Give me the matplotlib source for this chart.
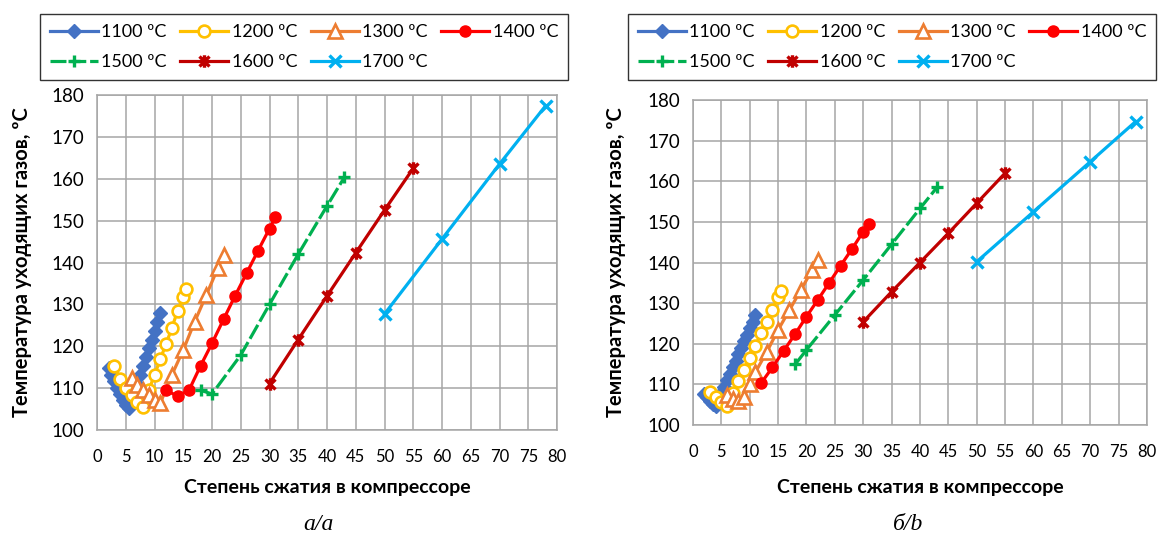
import matplotlib
matplotlib.use('Agg')
import matplotlib.pyplot as plt
from matplotlib.path import Path

# ---------------- data ----------------
series_labels = ['1100 ºC', '1200 ºC', '1300 ºC', '1400 ºC', '1500 ºC', '1600 ºC', '1700 ºC']

a_1100_x = [2, 2.5, 3, 3.5, 4, 4.5, 5, 5.5, 6, 6.5, 7, 7.5, 8, 8.5, 9, 9.5, 10, 10.5, 11]
a_1100_y = [114.8, 113.2, 111.6, 110.0, 108.5, 107.2, 106.0, 105.2, 107.0, 109.0, 111.0,
            113.2, 115.3, 117.4, 119.5, 121.6, 123.7, 125.8, 127.9]
a_1200_x = [3, 4, 5, 6, 7, 8, 9, 10, 11, 12, 13, 14, 15, 15.5]
a_1200_y = [115.3, 112.2, 110.0, 108.4, 106.8, 105.6, 109.5, 113.1, 116.9, 120.5, 124.3, 128.4, 131.8, 133.6]
a_1300_x = [6, 7, 8, 9, 10, 11, 13, 15, 17, 19, 21, 22]
a_1300_y = [112.3, 110.7, 109.5, 108.4, 107.2, 106.4, 113.1, 119.1, 125.9, 132.2, 138.6, 141.8]
a_1400_x = [12, 14, 16, 18, 20, 22, 24, 26, 28, 30, 31]
a_1400_y = [109.5, 108.1, 109.5, 115.3, 120.7, 126.4, 132.0, 137.4, 142.8, 148.1, 150.8]
a_1500_x = [18, 20, 25, 30, 35, 40, 43]
a_1500_y = [109.5, 108.6, 117.9, 130.0, 142.0, 153.5, 160.3]
a_1600_x = [30, 35, 40, 45, 50, 55]
a_1600_y = [111.1, 121.6, 132.0, 142.3, 152.5, 162.5]
a_1700_x = [50, 60, 70, 78]
a_1700_y = [127.7, 145.6, 163.5, 177.4]

b_1100_x = [2, 2.5, 3, 3.5, 4, 4.5, 5, 5.5, 6, 6.5, 7, 7.5, 8, 8.5, 9, 9.5, 10, 10.5, 11]
b_1100_y = [107.6, 106.8, 106.0, 105.2, 104.6, 106.2, 107.8, 109.4, 111.0, 112.6, 114.2,
            115.8, 117.4, 119.0, 120.6, 122.2, 123.8, 125.4, 127.0]
b_1200_x = [3, 4, 5, 6, 7, 8, 9, 10, 11, 12, 13, 14, 15, 15.5]
b_1200_y = [108.2, 106.8, 105.7, 104.8, 108.0, 110.9, 113.6, 116.6, 119.5, 122.6, 125.4, 128.4, 131.4, 133.0]
b_1300_x = [6, 7, 8, 9, 10, 11, 13, 15, 17, 19, 21, 22]
b_1300_y = [107.5, 106.3, 105.8, 107.0, 110.0, 113.0, 118.0, 123.4, 128.3, 133.2, 138.2, 140.6]
b_1400_x = [12, 14, 16, 18, 20, 22, 24, 26, 28, 30, 31]
b_1400_y = [110.3, 114.2, 118.3, 122.4, 126.7, 130.8, 135.0, 139.2, 143.3, 147.6, 149.5]
b_1500_x = [18, 20, 25, 30, 35, 40, 43]
b_1500_y = [114.9, 118.5, 127.1, 135.7, 144.5, 153.3, 158.5]
b_1600_x = [30, 35, 40, 45, 50, 55]
b_1600_y = [125.4, 132.8, 140.0, 147.2, 154.6, 162.0]
b_1700_x = [50, 60, 70, 78]
b_1700_y = [140.2, 152.5, 164.8, 174.7]

x_ticks = list(range(0, 81, 5))
y_ticks = list(range(100, 181, 10))
x_label = 'Степень сжатия в компрессоре'
y_label = 'Температура уходящих газов, ºC'
captions = ['а/a', 'б/b']

# ---------------- styles ----------------
FONT = ['Lato', 'Open Sans', 'DejaVu Sans']
plt.rcParams['font.family'] = FONT

star = Path([(-1, -1), (1, 1), (-1, 1), (1, -1), (0, -1.25), (0, 1.25)],
            [Path.MOVETO, Path.LINETO] * 3)

styles = [
    dict(color='#4472C4', marker='D', ms=7.5, mfc='#4472C4', mec='#4472C4', mew=1),
    dict(color='#FFC000', marker='o', ms=8.5, mfc='white', mec='#FFC000', mew=1.9),
    dict(color='#ED7D31', marker='^', ms=9.5, mfc='white', mec='#ED7D31', mew=1.9),
    dict(color='#FF0000', marker='o', ms=8, mfc='#FF0000', mec='#FF0000', mew=1),
    dict(color='#00B050', marker='+', ms=9, mec='#00B050', mew=2.4, ls=(0, (5, 1.2))),
    dict(color='#C00000', marker=star, ms=9, mfc='none', mec='#C00000', mew=2.4),
    dict(color='#00B0F0', marker='x', ms=9, mec='#00B0F0', mew=2.4),
]

panels = [
    ([a_1100_x, a_1200_x, a_1300_x, a_1400_x, a_1500_x, a_1600_x, a_1700_x],
     [a_1100_y, a_1200_y, a_1300_y, a_1400_y, a_1500_y, a_1600_y, a_1700_y]),
    ([b_1100_x, b_1200_x, b_1300_x, b_1400_x, b_1500_x, b_1600_x, b_1700_x],
     [b_1100_y, b_1200_y, b_1300_y, b_1400_y, b_1500_y, b_1600_y, b_1700_y]),
]

W, H = 1160, 539
fig = plt.figure(figsize=(W / 100, H / 100), dpi=100)

# axes boxes in pixels: left, top, right, bottom
boxes = [(97, 95, 557, 430), (693, 100, 1147, 425)]
legend_boxes = [(40, 14), (628, 14)]
ylab_x = [22, 616]
caption_x = [318, 908]

order = [0, 4, 1, 5, 2, 6, 3]

for i, (xs, ys) in enumerate(panels):
    l, t, r, b = boxes[i]
    ax = fig.add_axes([l / W, 1 - b / H, (r - l) / W, (b - t) / H])
    handles = []
    for k in range(7):
        st = dict(styles[k])
        ls = st.pop('ls', '-')
        h, = ax.plot(xs[k], ys[k], lw=2.3, ls=ls, label=series_labels[k], zorder=3 + k, **st)
        handles.append(h)
    ax.set_xlim(0, 80)
    ax.set_ylim(100, 180)
    ax.set_xticks(x_ticks)
    ax.set_yticks(y_ticks)
    ax.grid(True, color='#A6A6A6', lw=1.1)
    ax.set_axisbelow(True)
    for sp in ax.spines.values():
        sp.set_color('#A6A6A6')
        sp.set_linewidth(1.1)
    ax.tick_params(axis='both', length=0, colors='black')
    ax.tick_params(axis='x', labelsize=12, pad=14)
    ax.tick_params(axis='y', labelsize=13.5, pad=9)
    cx = (l + r) / 2
    fig.text(cx / W, 1 - 487 / H, x_label, ha='center', va='center',
             fontsize=14, fontweight='bold')
    fig.text(ylab_x[i] / W, 1 - ((t + b) / 2) / H, y_label, rotation=90,
             ha='center', va='center', fontsize=14.5, fontweight='bold')
    fig.text(caption_x[i] / W, 1 - 524 / H, captions[i], ha='center', va='center',
             fontsize=17, fontstyle='italic', family=['Liberation Serif', 'DejaVu Serif'])
    lx, ly = legend_boxes[i]
    leg = fig.legend([handles[j] for j in order], [series_labels[j] for j in order],
                     loc='upper left', bbox_to_anchor=(lx / W, 1 - ly / H), ncol=4,
                     fontsize=13, frameon=True, fancybox=False, edgecolor='black',
                     handlelength=2.65, handletextpad=0.2, columnspacing=0.75,
                     borderpad=0.55, labelspacing=0.8, borderaxespad=0)
    leg.get_frame().set_linewidth(1.0)

fig.savefig('out.png', dpi=100)
